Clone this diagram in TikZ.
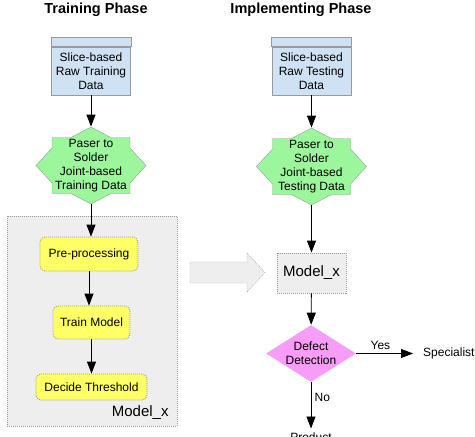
\documentclass[tikz,border=0pt]{standalone}
\usepackage{fontspec}
\setmainfont{Liberation Sans}
\usetikzlibrary{arrows.meta}
\usetikzlibrary{backgrounds}
\usetikzlibrary{shapes.geometric}

\definecolor{datablue}{HTML}{CFE2F3}
\definecolor{stargreen}{HTML}{9CF79C}
\definecolor{stepyellow}{HTML}{FFFF66}
\definecolor{modelgray}{HTML}{EEEEEE}
\definecolor{checkpink}{HTML}{F79CF7}
\definecolor{edgegray}{HTML}{9A9A9A}

\begin{document}
\begin{tikzpicture}[x=1pt,y=-1pt,line width=0.8pt,
  font=\fontsize{12}{14}\selectfont,
  arr/.style={-{Triangle[length=12pt,width=9pt]},black},
  phase/.style={font=\fontsize{14.5}{16}\selectfont\bfseries},
  databox/.style={draw=edgegray,fill=datablue,minimum width=79pt,minimum height=48pt,inner sep=0pt,align=center},
  parser/.style={minimum width=110pt,minimum height=77pt,inner sep=0pt,align=center},
  stepbox/.style={draw=edgegray,dash pattern=on 1pt off 1pt,fill=stepyellow,rounded corners=5pt,inner sep=0pt,align=center},
  modelbox/.style={draw=edgegray,dash pattern=on 1pt off 1pt,fill=modelgray}]

\useasboundingbox (0,0) rectangle (475,437);

% titles
\node[phase] (traintitle) at (96,10) {Training Phase};
\node[phase] (testtitle) at (301,10) {Implementing Phase};

% training column
\node[databox] (trainraw) at (91,71) {Slice-based\\Raw Training\\Data};
\node[parser] (trainparse) at (91,165.5) {Paser to\\Solder\\Joint-based\\Training Data};
\node[stepbox,minimum width=98pt,minimum height=34pt] (preproc) at (89,254) {Pre-processing};
\node[stepbox,minimum width=77pt,minimum height=33pt] (trainmodel) at (91.5,322.5) {Train Model};
\node[stepbox,minimum width=111pt,minimum height=26pt] (threshold) at (91.5,387) {Decide Threshold};
\node[anchor=east,inner sep=0pt,font=\fontsize{15}{17}\selectfont] (modellabel) at (169,413) {Model\_x};

% implementing column
\node[databox] (testraw) at (311.5,71) {Slice-based\\Raw Testing\\Data};
\node[parser] (testparse) at (311.5,166.5) {Paser to\\Solder\\Joint-based\\Testing Data};
\node[modelbox,minimum width=69pt,minimum height=40pt,font=\fontsize{15}{17}\selectfont] (modelx) at (311.5,273) {Model\_x};
\node[shape=diamond,fill=checkpink,inner sep=-2pt,minimum width=90pt,minimum height=57pt,aspect=1.58,align=center] (defect) at (311,353.5) {Defect\\Detection};
\node[anchor=west] (specialist) at (419.5,353.5) {Specialist};
\node[anchor=north,inner sep=0pt] (product) at (311,432.5) {Product};

\begin{scope}[on background layer]
\draw[modelbox] (7,216) rectangle (177,426);
\foreach \s in {trainraw,testraw}
  \draw[draw=edgegray,fill=datablue] (\s.north west) rectangle ([yshift=9pt]\s.north east);
\foreach \s in {trainparse,testparse}
  \draw[draw=edgegray,fill=stargreen,shift={(\s.center)}]
    (55,0) -- (39,17.5) -- (39,28) -- (20,28) -- (0,38.5) -- (-20,28) -- (-39,28) -- (-39,17.5)
    -- (-55,0) -- (-39,-17.5) -- (-39,-28) -- (-20,-28) -- (0,-38.5) -- (20,-28) -- (39,-28) -- (39,-17.5) -- cycle;
\draw[modelbox] (190,262) -- (247,262) -- (247,253) -- (265,272.5) -- (247,292) -- (247,283) -- (190,283) -- cycle;
\end{scope}

% connectors
\draw[arr] (trainraw) -- (trainparse);
\draw[arr] (trainparse.south) -- (preproc.north -| trainparse.south);
\draw[arr] (preproc) -- (trainmodel.north -| preproc.south);
\draw[arr] (trainmodel) -- (threshold);
\draw[arr] (testraw) -- (testparse);
\draw[arr] (testparse) -- (modelx);
\draw[arr] (modelx) -- (defect);
\draw[arr,shorten >=6.5pt] (defect.east) -- (specialist.west) node[above,pos=0.38] {Yes};
\draw[arr,shorten >=4pt] (defect.south) -- (product.north) node[right,pos=0.3] {No};

\end{tikzpicture}
\end{document}
